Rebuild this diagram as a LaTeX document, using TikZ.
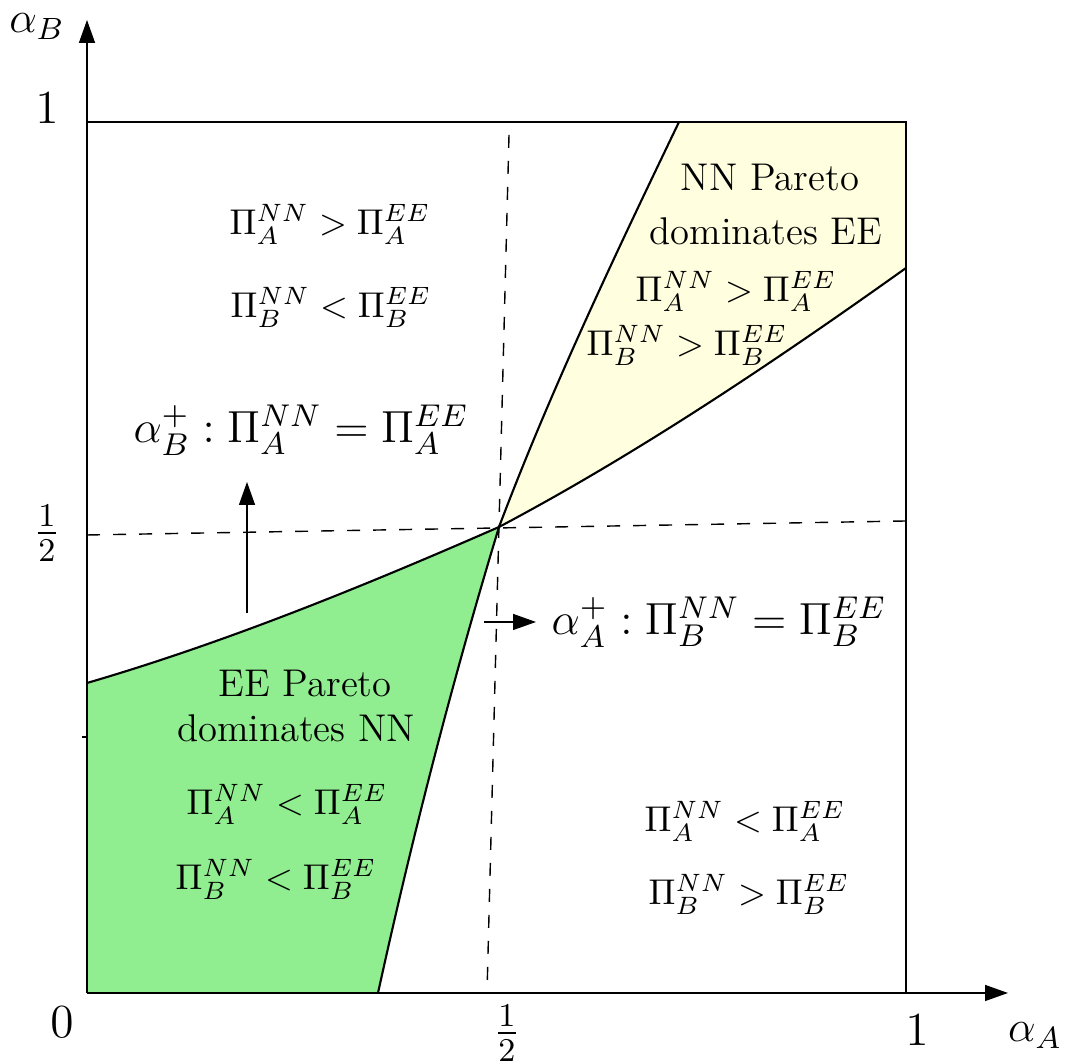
\RequirePackage{fix-cm}
\documentclass[tikz,border=0pt]{standalone}
\usepackage{xcolor}
\usepackage{amsmath}
\usepackage{tikz}
\usetikzlibrary{arrows.meta}
\definecolor{eegreen}{RGB}{144,238,144}
\definecolor{nnyellow}{RGB}{255,255,224}
\tikzset{
  axisarr/.style={line width=0.4pt, -{Triangle[length=2.3mm,width=1.6mm]}},
  shiftarr/.style={line width=0.4pt, -{Triangle[length=2.3mm,width=1.6mm]}},
  boxline/.style={line width=0.6pt},
  halfline/.style={line width=0.4pt, dash pattern=on 3.7pt off 3.7pt},
  curveline/.style={line width=0.6pt},
  regiontext/.style={font=\fontsize{11}{13}\selectfont, anchor=base, inner sep=0pt},
  regionmath/.style={font=\fontsize{10.2}{12}\selectfont, anchor=base, inner sep=0pt},
  bordertext/.style={font=\fontsize{12.8}{15}\selectfont, anchor=base, inner sep=0pt},
  ticktext/.style={font=\fontsize{13.5}{16}\selectfont, inner sep=0pt},
  axistext/.style={font=\fontsize{12.5}{15}\selectfont, anchor=base, inner sep=0pt}
}

\begin{document}
\begin{tikzpicture}
  \useasboundingbox (0,0) rectangle (10.65,10.63);

  % Corner points of the unit square and the meeting point at one half
  \coordinate (origin) at (0.87,0.70);
  \coordinate (topleft) at (0.87,9.41);
  \coordinate (topright) at (9.06,9.41);
  \coordinate (botright) at (9.06,0.70);
  \coordinate (halfpt) at (4.99,5.36);
  % Ends of the two boundary curves
  \coordinate (shallowl) at (0.87,3.80);
  \coordinate (shallowr) at (9.06,7.95);
  \coordinate (steepb) at (3.78,0.70);
  \coordinate (steept) at (6.79,9.41);

  % EE region (green)
  \fill[eegreen] (origin) -- (shallowl) .. controls (2.24,4.20) and (3.62,4.76) .. (halfpt)
        .. controls (4.52,3.81) and (4.12,2.25) .. (steepb) -- cycle;

  % NN region (yellow)
  \fill[nnyellow] (halfpt) .. controls (5.50,6.71) and (6.14,8.06) .. (steept)
        -- (topright) -- (shallowr) .. controls (7.70,6.98) and (6.35,6.08) .. (halfpt) -- cycle;

  % Dashed lines at one half
  \draw[halfline] (5.09,9.28) -- (4.87,0.70);
  \draw[halfline] (0.87,5.28) -- (9.06,5.42);

  % Boundary curves
  \draw[curveline] (shallowl) .. controls (2.24,4.20) and (3.62,4.76) .. (halfpt)
        .. controls (6.35,6.08) and (7.70,6.98) .. (shallowr);
  \draw[curveline] (steepb) .. controls (4.12,2.25) and (4.52,3.81) .. (halfpt)
        .. controls (5.50,6.71) and (6.14,8.06) .. (steept);

  % Unit square
  \draw[boxline] (topleft) -- (topright) -- (botright);
  \draw[boxline] (origin) -- (topleft);
  \draw[boxline] (origin) -- (botright);

  % Axes
  \draw[axisarr] (origin) -- (10.08,0.70);
  \draw[axisarr] (topleft) -- (0.87,10.43);
  \draw[line width=0.4pt] (0.82,3.26) -- (origin |- 0,3.26);

  % Axis labels and ticks
  \node[axistext] (alphab) at (0.37,10.30) {$\alpha_B$};
  \node[axistext] (alphaa) at (10.35,0.21) {$\alpha_A$};
  \node[ticktext] (yone) at (0.47,9.55) {$1$};
  \node[ticktext] (yhalf) at (0.47,5.30) {$\frac{1}{2}$};
  \node[ticktext] (zero) at (0.62,0.41) {$0$};
  \node[ticktext] (xhalf) at (5.07,0.30) {$\frac{1}{2}$};
  \node[ticktext] (xone) at (9.17,0.33) {$1$};

  % Top left region
  \node[regionmath] (tla) at (3.30,8.28) {$\Pi_A^{NN} > \Pi_A^{EE}$};
  \node[regionmath] (tlb) at (3.31,7.45) {$\Pi_B^{NN} < \Pi_B^{EE}$};

  % NN region
  \node[regiontext] (nnhead) at (7.70,8.72) {NN Pareto};
  \node[regiontext] (nnsub) at (7.66,8.18) {dominates EE};
  \node[regionmath] (nna) at (7.36,7.61) {$\Pi_A^{NN} > \Pi_A^{EE}$};
  \node[regionmath] (nnb) at (6.87,7.07) {$\Pi_B^{NN} > \Pi_B^{EE}$};

  % Boundary labels with shift arrows
  \node[bordertext] (alphabplus) at (3.01,6.20) {$\alpha_B^+ : \Pi_A^{NN} = \Pi_A^{EE}$};
  \node[bordertext] (alphaaplus) at (7.19,4.28) {$\alpha_A^+ : \Pi_B^{NN} = \Pi_B^{EE}$};
  \coordinate (uparrbase) at (2.47,4.50);
  \coordinate (uparrtip) at (2.47,5.81);
  \coordinate (rtarrbase) at (4.84,4.41);
  \coordinate (rtarrtip) at (5.36,4.41);
  \draw[shiftarr] (uparrbase) -- (uparrtip);
  \draw[shiftarr] (rtarrbase) -- (rtarrtip);

  % EE region
  \node[regiontext] (eehead) at (3.05,3.66) {EE Pareto};
  \node[regiontext] (eesub) at (2.96,3.21) {dominates NN};
  \node[regionmath] (eea) at (2.87,2.48) {$\Pi_A^{NN} < \Pi_A^{EE}$};
  \node[regionmath] (eeb) at (2.76,1.73) {$\Pi_B^{NN} < \Pi_B^{EE}$};

  % Bottom right region
  \node[regionmath] (bra) at (7.45,2.31) {$\Pi_A^{NN} < \Pi_A^{EE}$};
  \node[regionmath] (brb) at (7.49,1.58) {$\Pi_B^{NN} > \Pi_B^{EE}$};
\end{tikzpicture}
\end{document}
